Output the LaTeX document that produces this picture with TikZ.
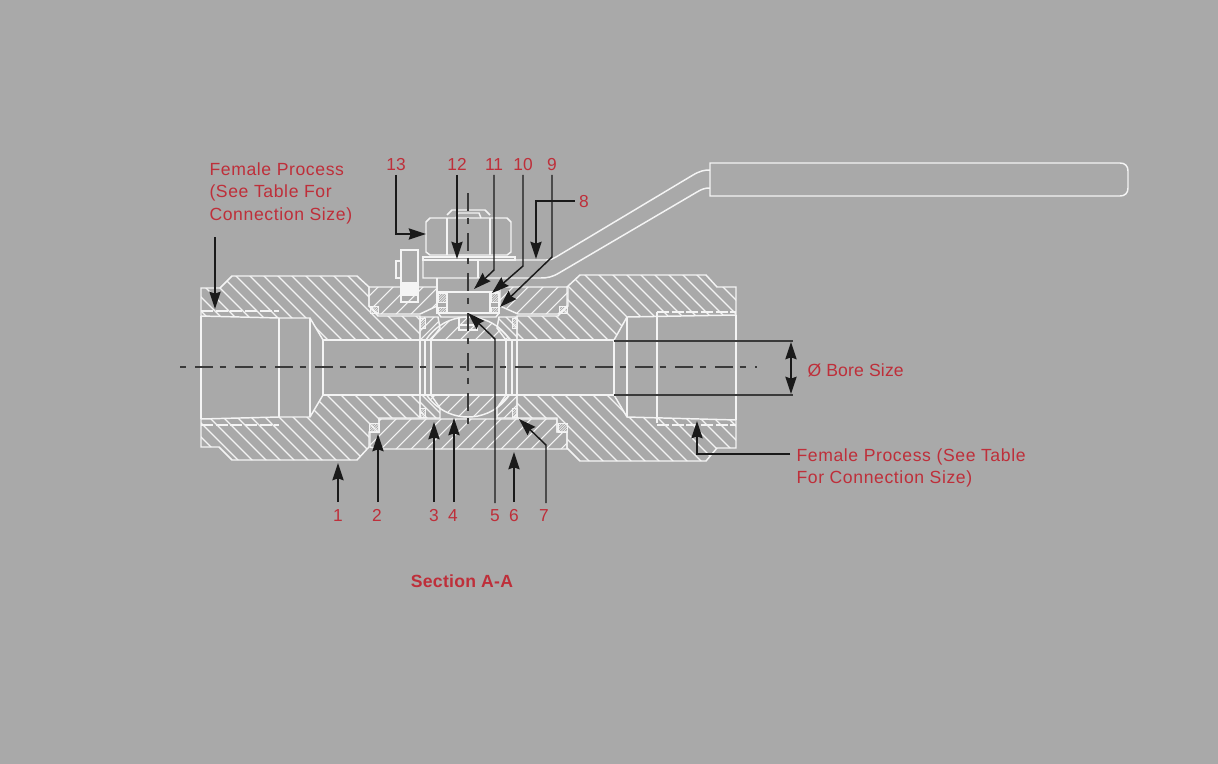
\documentclass[tikz,border=0pt]{standalone}
\usepackage{fontspec}
\setmainfont{Liberation Sans}
\usetikzlibrary{arrows.meta}
\definecolor{bggray}{HTML}{A9A9A9}
\definecolor{partwhite}{HTML}{F4F4F4}
\definecolor{labelred}{HTML}{BE2F3A}
\definecolor{leaderblack}{HTML}{1A1A1A}
\definecolor{axisgray}{HTML}{3A3A3A}
\tikzset{
	every picture/.style={line width=0.75pt},
	part/.style={draw=partwhite,line width=1.1pt,line join=miter},
	hatchline/.style={draw=partwhite,line width=0.8pt},
	threadline/.style={draw=partwhite,line width=0.8pt,dash pattern=on 9pt off 2pt},
	sealline/.style={draw=partwhite,line width=0.35pt},
	leader/.style={draw=leaderblack,line width=1.1pt,-{Stealth[length=13pt,width=8.5pt,inset=1.5pt]}},
	dimline/.style={draw=axisgray,line width=1.4pt},
	axisline/.style={draw=axisgray,line width=1pt,dash pattern=on 13.5pt off 5pt on 5pt off 6.5pt},
	numlabel/.style={text=labelred,font=\fontsize{13}{16}\selectfont,inner sep=3pt,text height=9.5pt,text depth=0pt},
	notelabel/.style={text=labelred,font=\fontsize{13.2}{17}\selectfont\addfontfeatures{LetterSpace=3.5},inner sep=0pt,anchor=north west,align=left},
}
% hatch helpers: #1 is a closed path that limits the lines
\newcommand{\hatchback}[1]{\begin{scope}\clip #1;\foreach \k in {-400,-386,...,800}{\draw[hatchline] (\k,200) -- ++(320,320);}\end{scope}}
\newcommand{\hatchfwd}[1]{\begin{scope}\clip #1;\foreach \k in {300,315,...,1100}{\draw[hatchline] (\k,200) -- ++(-320,320);}\end{scope}}
\newcommand{\hatchsmallback}[1]{\begin{scope}\clip #1;\foreach \k in {0,9,...,400}{\draw[hatchline] (\k+100,280) -- ++(160,160);}\end{scope}}
\newcommand{\hatchsmallfwd}[1]{\begin{scope}\clip #1;\foreach \k in {0,9,...,400}{\draw[hatchline] (\k+300,280) -- ++(-160,160);}\end{scope}}
\newcommand{\sealbox}[2]{\begin{scope}\clip (#1) rectangle (#2);\foreach \k in {60,62.5,...,420}{\draw[sealline] (\k+300,280) -- ++(-180,180);}\end{scope}\draw[part,line width=0.7pt] (#1) rectangle (#2);}

\begin{document}
\begin{tikzpicture}[x=0.75pt,y=0.75pt,yscale=-1,xscale=1]
	\useasboundingbox (0,0) rectangle (1218,764);
	\fill[bggray] (0,0) rectangle (1218,764);

	%Left body
	\def\leftupper{(201,288) -- (220,288) -- (232,276) -- (357,276) -- (369,287) -- (369,306) -- (378,316) -- (420,316) -- (420,340) -- (323,340) -- (310,318) -- (279,318) -- (201,316) -- cycle}
	\def\leftlower{(201,419) -- (279,417) -- (310,417) -- (323,395) -- (420,395) -- (420,418) -- (379,418) -- (379,432) -- (369,432) -- (369,447) -- (357,460) -- (232,460) -- (219,447) -- (201,447) -- cycle}
	\hatchback{\leftupper}
	\hatchback{\leftlower}
	\draw[part] \leftupper;
	\draw[part] \leftlower;
	\draw[part] (201,316) -- (201,419);
	\draw[part] (279,318) -- (279,417);
	\draw[part] (310,318) -- (310,417);
	\draw[part] (323,340) -- (323,395);
	\draw[threadline] (201,311) -- (279,311);
	\draw[threadline] (201,425) -- (279,425);

	%Right body
	\def\rightupper{(580,275) -- (706,275) -- (717,287) -- (736,287) -- (736,315) -- (627,317) -- (614,340) -- (517,340) -- (517,316) -- (558,316) -- (567,306) -- (567,287) -- cycle}
	\def\rightlower{(614,395) -- (627,417) -- (736,420) -- (736,448) -- (717,448) -- (706,461) -- (580,461) -- (567,448) -- (567,432) -- (557,432) -- (557,418) -- (517,418) -- (517,395) -- cycle}
	\hatchback{\rightupper}
	\hatchback{\rightlower}
	\draw[part] \rightupper;
	\draw[part] \rightlower;
	\draw[part] (736,315) -- (736,420);
	\draw[part] (657,312) -- (657,423);
	\draw[part] (627,317) -- (627,417);
	\draw[part] (614,340) -- (614,395);
	\draw[threadline] (657,312) -- (736,312);
	\draw[threadline] (657,425) -- (736,425);

	%Flanges
	\def\flangeleft{(369,287) -- (437,287) -- (437,306) -- (420,314) -- (378,314) -- (369,306) -- cycle}
	\def\flangeright{(500,287) -- (568,287) -- (568,306) -- (558,314) -- (518,314) -- (500,306) -- cycle}
	\def\flangelower{(379,419) -- (557,419) -- (557,432) -- (567,432) -- (567,449) -- (380,449) -- (370,447) -- (370,432) -- (379,432) -- cycle}
	\hatchfwd{\flangeleft}
	\hatchfwd{\flangeright}
	\hatchfwd{\flangelower}
	\draw[part] \flangeleft;
	\draw[part] \flangeright;
	\draw[part] \flangelower;
	\sealbox{370,306}{378,313}
	\sealbox{559,306}{567,313}
	\sealbox{369,423}{379,432}
	\sealbox{558,423}{567,432}

	%Ball
	\begin{scope}
		\clip (420,300) rectangle (517,340) (420,395) rectangle (517,430);
		\hatchfwd{(468,367) circle (50)}
		\draw[part] (468,367) circle (50);
	\end{scope}

	%Seats
	\def\seatul{(420,317) -- (438,317) -- (440,328) -- (431,340) -- (420,340) -- cycle}
	\def\seatll{(420,395) -- (431,395) -- (440,408) -- (440,418) -- (420,418) -- cycle}
	\def\seatur{(517,317) -- (499,317) -- (497,328) -- (506,340) -- (517,340) -- cycle}
	\def\seatlr{(517,395) -- (506,395) -- (497,408) -- (497,418) -- (517,418) -- cycle}
	\hatchsmallfwd{\seatul}
	\hatchsmallback{\seatll}
	\hatchsmallback{\seatur}
	\hatchsmallfwd{\seatlr}
	\draw[part] \seatul;
	\draw[part] \seatll;
	\draw[part] \seatur;
	\draw[part] \seatlr;
	\sealbox{420,318}{425,328}
	\sealbox{512,318}{517,328}
	\sealbox{420,408}{425,417}
	\sealbox{512,408}{517,417}
	\draw[part] (420,340) -- (420,395);
	\draw[part] (425,340) -- (425,395);
	\draw[part] (431,340) -- (431,395);
	\draw[part] (506,340) -- (506,395);
	\draw[part] (512,340) -- (512,395);
	\draw[part] (517,340) -- (517,395);
	\draw[part] (323,340) -- (614,340);
	\draw[part] (323,395) -- (614,395);

	%Stem
	\draw[part] (437,278) -- (437,313) -- (499,313) -- (499,292);
	\draw[part] (447,292) rectangle (490,313);
	\draw[part] (437,292) -- (499,292);
	\draw[part] (438,313) -- (441,317) -- (496,317) -- (499,313);
	\draw[part] (459,317) -- (459,330) -- (477,330) -- (477,317);
	\draw[part] (459,325) -- (477,325);
	\sealbox{438,293}{446,302}
	\sealbox{438,307}{446,312}
	\sealbox{491,293}{498,302}
	\sealbox{491,307}{498,312}

	%Nut
	\draw[part] (447,215) -- (452,210) -- (485,210) -- (490,215);
	\draw[part] (456,218) -- (458,213) -- (479,213) -- (481,218);
	\draw[part] (426,222) -- (430,218) -- (507,218) -- (511,222) -- (511,252) -- (507,255) -- (430,255) -- (426,252) -- cycle;
	\draw[part] (447,218) -- (447,255);
	\draw[part] (490,218) -- (490,255);

	%Stop bolt
	\draw[part] (401,250) rectangle (418,302);
	\fill[partwhite] (401,282) rectangle (418,296);
	\draw[part] (396,261) rectangle (401,278);

	%Handle
	\draw[part] (423,257) rectangle (515,260);
	\draw[part] (423,260) -- (423,278) -- (540,278) .. controls (548,278) and (552,277) .. (559,273) -- (697,192) .. controls (702,189) and (705,188) .. (710,188);
	\draw[part] (478,260) -- (478,278);
	\draw[part] (515,260) -- (546,260) .. controls (550,260) and (553,259) .. (556,257) -- (693,175) .. controls (700,171) and (704,170) .. (710,170);
	\draw[part] (710,163) -- (1120,163) .. controls (1125,163) and (1128,166) .. (1128,171) -- (1128,188) .. controls (1128,193) and (1125,196) .. (1120,196) -- (710,196) -- cycle;

	%Center lines
	\draw[axisline,dash phase=18.75pt] (180,367) -- (757,367);
	\draw[axisline] (468,193) -- (468,432);

	%Bore size
	\draw[dimline] (614,341) -- (793,341);
	\draw[dimline] (614,395) -- (793,395);
	\draw[draw=leaderblack,line width=1.1pt,{Stealth[length=13pt,width=8.5pt,inset=1.5pt]}-{Stealth[length=13pt,width=8.5pt,inset=1.5pt]}] (791,342) -- (791,394);

	%Labels
	\node[notelabel] (femaleleft) at (209,162) {Female Process\\(See Table For\\Connection Size)};
	\node[notelabel] (femaleright) at (796,448) {Female Process (See Table\\For Connection Size)};
	\node[notelabel,font=\fontsize{13.2}{17}\selectfont\addfontfeatures{LetterSpace=1}] (boresize) at (807,363) {Ø Bore Size};
	\node[text=labelred,font=\fontsize{13.2}{16}\selectfont\bfseries\addfontfeatures{LetterSpace=1.5}] (sectionaa) at (462,581) {Section A-A};
	\node[numlabel] (n13) at (396,164) {13};
	\node[numlabel] (n12) at (457,164) {12};
	\node[numlabel] (n11) at (494,164) {11};
	\node[numlabel] (n10) at (523,164) {10};
	\node[numlabel] (n9) at (552,164) {9};
	\node[numlabel] (n8) at (584,201) {8};
	\node[numlabel] (n1) at (338,515) {1};
	\node[numlabel] (n2) at (377,515) {2};
	\node[numlabel] (n3) at (434,515) {3};
	\node[numlabel] (n4) at (453,515) {4};
	\node[numlabel] (n5) at (495,515) {5};
	\node[numlabel] (n6) at (514,515) {6};
	\node[numlabel] (n7) at (544,515) {7};

	%Leaders
	\draw[leader] (n13.south) -- (396,234) -- (426,234);
	\draw[leader] (n12.south) -- (457,259);
	\draw[leader] (n11.south) -- (494,270) -- (474,289);
	\draw[leader] (n10.south) -- (523,266) -- (492,293);
	\draw[leader] (n9.south) -- (552,257) -- (500,307);
	\draw[leader] (n8.west) -- (536,201) -- (536,259);
	\draw[leader] (215,237) -- (215,309);
	\draw[leader] (790,454) -- (697,454) -- (697,421);
	\draw[leader] (338,502) -- (338,463);
	\draw[leader] (378,502) -- (378,434);
	\draw[leader] (434,502) -- (434,422);
	\draw[leader] (454,502) -- (454,418);
	\draw[leader] (495,503) -- (495,339) -- (468,313);
	\draw[leader] (514,502) -- (514,452);
	\draw[leader] (546,503) -- (546,445) -- (519,419);
\end{tikzpicture}
\end{document}
